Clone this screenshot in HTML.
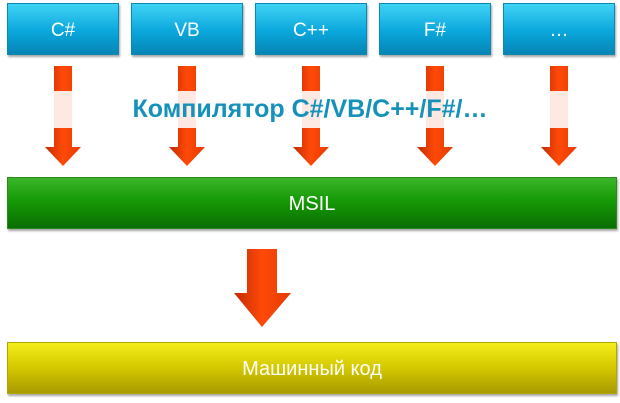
<!DOCTYPE html>
<html><head><meta charset="utf-8"><style>
body{margin:0;width:620px;height:403px;background:#fff;position:relative;overflow:hidden;font-family:"Liberation Sans",sans-serif}
.b{position:absolute;color:#fff;text-align:center;box-shadow:1px 2px 2px rgba(0,0,0,.35)}
.t{top:3px;width:112px;height:52px;line-height:54px;font-size:19px;background:linear-gradient(#3fd2f5,#0aa7dc 55%,#0685b5);border:1px solid #0a88b0;box-sizing:border-box}
.w{left:7px;width:610px;height:52px;line-height:52px;font-size:20px;box-sizing:border-box}
</style></head><body>
<div class="b t" style="left:7px">C#</div>
<div class="b t" style="left:131px">VB</div>
<div class="b t" style="left:255px">C++</div>
<div class="b t" style="left:379px">F#</div>
<div class="b t" style="left:503px">…</div>
<svg width="620" height="403" style="position:absolute;left:0;top:0">
<defs>
<linearGradient id="g" x1="0" x2="1" y1="0" y2="0"><stop offset="0" stop-color="#c42a00"/><stop offset=".5" stop-color="#ff4a08"/><stop offset="1" stop-color="#e43a00"/></linearGradient>
<g id="a"><path d="M-9 66H9V147H18L0 166L-18 147H-9Z" fill="url(#g)"/><rect x="-9" y="91" width="18" height="37" fill="#fde8e2"/></g>
</defs>
<use href="#a" x="63"/><use href="#a" x="187"/><use href="#a" x="311"/><use href="#a" x="435"/><use href="#a" x="559"/>
<path d="M247 249H277V293H291L262 327L234 293H247Z" fill="url(#g)"/>
<text x="310" y="117" text-anchor="middle" font-family="Liberation Sans" font-weight="bold" font-size="25" fill="#1591ba">Компилятор C#/VB/C++/F#/…</text>
</svg>
<div class="b w" style="top:177px;background:linear-gradient(#3cb52a,#169a06 45%,#0a6e02);border:1px solid #2a8a1a">MSIL</div>
<div class="b w" style="top:342px;background:linear-gradient(#f4ee1a,#d4c800 50%,#a89a00);border:1px solid #b0a800">Машинный код</div>
</body></html>
